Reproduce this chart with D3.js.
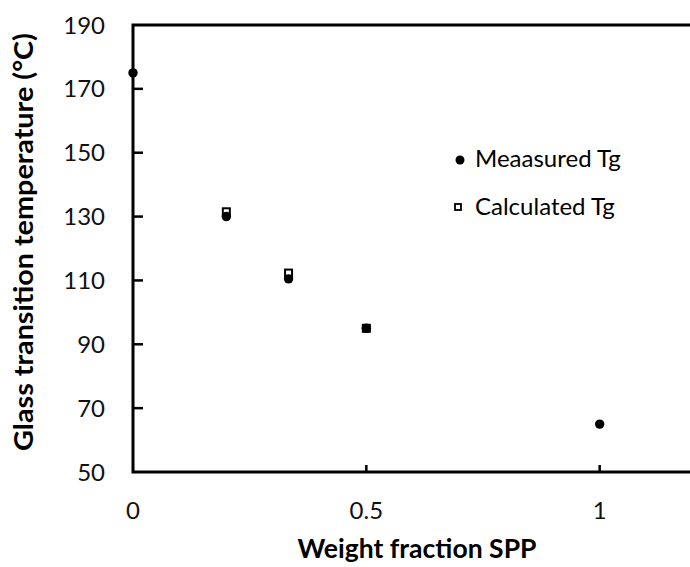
<!DOCTYPE html>
<html>
<head>
  <script src="https://d3js.org/d3.v7.min.js"></script>
  <style>
    body {
  margin: 0;
  background-color: #ffffff;
}

svg {
  display: block;
  font-family: 'Lato', sans-serif;
}

.frame {
  fill: none;
  stroke: #000;
  stroke-width: 3px;
}

.tick-label {
  font-size: 24px;
  fill: #111;
}

.axis-title {
  font-size: 26px;
  font-weight: bold;
  fill: #000;
}

.legend text {
  font-size: 24px;
  fill: #000;
}
  </style>
</head>
<body>

<script>
// Values.
const fractions = [0, 0.2, 1 / 3, 0.5, 1];
const measuredTg = [175, 130, 110.5, 95, 65];
const calcFractions = [0.2, 1 / 3, 0.5];
const calculatedTg = [131.5, 112.3, 95];
const xTicks = [0, 0.5, 1];
const yTicks = [50, 70, 90, 110, 130, 150, 170, 190];
const legendLabels = ["Meaasured Tg", "Calculated Tg"];

const width = 690;
const height = 567;

// Plot area (right edge runs slightly past the window, like the original).
const x = d3.scaleLinear().domain([0, 1.2]).range([133, 693]);
const y = d3.scaleLinear().domain([50, 190]).range([472, 25]);

const svg = d3.select("body")
  .append("svg")
  .attr("width", width)
  .attr("height", height);

// Frame: left, top, bottom.
svg.append("path")
  .attr("class", "frame")
  .attr("d", `M${x(1.2) + 5},${y(190)}H${x(0)}V${y(50)}H${x(1.2) + 5}`);

// Y ticks point inward.
svg.selectAll(".ytick")
  .data(yTicks.slice(1, -1))
  .enter()
  .append("line")
  .attr("x1", x(0))
  .attr("x2", x(0) + 10)
  .attr("y1", d => y(d))
  .attr("y2", d => y(d))
  .attr("stroke", "#000")
  .attr("stroke-width", 2.5);

svg.selectAll(".ylabel")
  .data(yTicks)
  .enter()
  .append("text")
  .attr("class", "tick-label")
  .attr("x", 105)
  .attr("y", d => y(d))
  .attr("dy", "0.36em")
  .attr("text-anchor", "end")
  .text(d => d);

// X ticks point up.
svg.selectAll(".xtick")
  .data(xTicks.slice(1))
  .enter()
  .append("line")
  .attr("x1", d => x(d))
  .attr("x2", d => x(d))
  .attr("y1", y(50))
  .attr("y2", y(50) - 7)
  .attr("stroke", "#000")
  .attr("stroke-width", 2.5);

svg.selectAll(".xlabel")
  .data(xTicks)
  .enter()
  .append("text")
  .attr("class", "tick-label")
  .attr("x", d => x(d))
  .attr("y", 510)
  .attr("dy", "0.36em")
  .attr("text-anchor", "middle")
  .text(d => d);

// Axis titles.
svg.append("text")
  .attr("class", "axis-title")
  .attr("x", 417)
  .attr("y", 558)
  .attr("text-anchor", "middle")
  .attr("textLength", 239)
  .attr("lengthAdjust", "spacingAndGlyphs")
  .text("Weight fraction SPP");

svg.append("text")
  .attr("class", "axis-title")
  .attr("transform", "translate(33,242) rotate(-90)")
  .attr("text-anchor", "middle")
  .attr("textLength", 418)
  .attr("lengthAdjust", "spacingAndGlyphs")
  .text("Glass transition temperature (°C)");

// Calculated values: small open squares, drawn beneath the circles.
svg.selectAll(".calc")
  .data(calcFractions.map((f, i) => [f, calculatedTg[i]]))
  .enter()
  .append("rect")
  .attr("x", d => x(d[0]) - 3.5)
  .attr("y", d => y(d[1]) - 3.5)
  .attr("width", 7)
  .attr("height", 7)
  .attr("fill", "#fff")
  .attr("stroke", "#000")
  .attr("stroke-width", 2);

// Measured values: filled circles.
svg.selectAll(".meas")
  .data(fractions.map((f, i) => [f, measuredTg[i]]))
  .enter()
  .append("circle")
  .attr("cx", d => x(d[0]))
  .attr("cy", d => y(d[1]))
  .attr("r", 4.7)
  .attr("fill", "#000");

// Legend.
const legend = svg.append("g").attr("class", "legend");

legend.append("circle")
  .attr("cx", 460)
  .attr("cy", 160)
  .attr("r", 4.5)
  .attr("fill", "#000");

legend.append("rect")
  .attr("x", 455)
  .attr("y", 204)
  .attr("width", 6)
  .attr("height", 6)
  .attr("fill", "#fff")
  .attr("stroke", "#000")
  .attr("stroke-width", 1.8);

legend.selectAll("text")
  .data(legendLabels)
  .enter()
  .append("text")
  .attr("x", 475)
  .attr("y", (d, i) => 167 + i * 48)
  .text(d => d);
</script>
</body>
</html>
